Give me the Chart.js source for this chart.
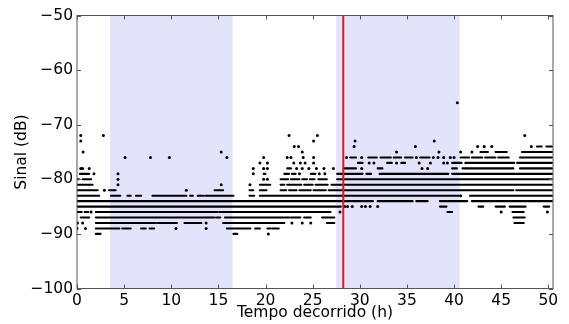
<!DOCTYPE html>
<html lang="pt">
<head>
  <meta charset="UTF-8">
  <title>Sinal</title>
  <style>
    html, body { margin: 0; padding: 0; background: #fff; }
    #wrap { width: 569px; height: 324px; }
  </style>
</head>
<body>
  <div id="wrap"><canvas id="sinalChart"></canvas></div>

  <script src="https://cdn.jsdelivr.net/npm/chart.js"></script>
  <script>
    // eixos
    const xTicks = [0, 5, 10, 15, 20, 25, 30, 35, 40, 45, 50];
    const yTicks = [-100, -90, -80, -70, -60, -50];

    // faixas sombreadas (h) e linha vermelha
    const spanStart = [3.5, 27.5];
    const spanEnd = [16.5, 40.6];
    const eventTime = 28.25;

    // niveis de sinal (dB) e, para cada um, os trechos [inicio, fim] em horas
    // onde aparecem pontos; um numero solto e um ponto isolado
    const levels = [-66, -72, -73, -74, -75, -76, -77, -78, -79, -80, -81, -82, -83, -84, -85, -86, -87, -88, -89, -90];

    const r66 = [40.35];
    const r72 = [0.4, 2.8, 22.5, 25.5, 47.5];
    const r73 = [0.4, 25.1, 29.5, 37.9];
    const r74 = [23.05, 23.5, 29.4, 35.9, 42.5, 43.2, 44.0, 48.2, [48.8, 49.3], [49.8, 50.4]];
    const r75 = [0.65, 15.3, 23.9, 33.9, 38.4, 40.7, 41.9, [42.8, 43.6], [44.4, 45.6], [47.2, 50.4]];
    const r76 = [5.1, 7.8, 9.8, 15.9, 19.8, 22.3, 22.7, 24.0, 25.1, 28.6, [29.0, 29.6], 30.2, [30.9, 31.8],
      [32.2, 33.3], [33.6, 34.4], [34.8, 35.6], 36.0, [36.4, 37.4], 37.8, 38.3, 38.9, 39.6, 40.0,
      [40.7, 41.6], [41.9, 43.0], [43.3, 44.4], [44.7, 45.8], [47.0, 50.4]];
    const r77 = [19.4, 20.2, 23.0, 23.7, 24.2, 25.1, [29.8, 30.3], 31.0, 31.5, [32.9, 33.4], 33.9, [34.4, 34.8],
      36.3, 37.5, 38.9, 39.3, [39.8, 40.8], [41.2, 46.4], [46.7, 50.4]];
    const r78 = [0.4, 0.6, 1.3, 18.7, 19.8, 20.2, [22.3, 22.7], 23.3, 23.9, 24.6, 25.4, 26.2, 27.2, [28.3, 29.6],
      30.2, [31.9, 32.4], 36.6, 37.2, [39.8, 40.3], [40.9, 46.3], [47.0, 50.4]];
    const r79 = [[0.3, 1.3], 1.8, 4.35, 18.7, [19.8, 20.0], [22.0, 22.5], [22.8, 23.2], 23.6, [24.8, 25.3], 25.7, 26.3,
      [27.6, 30.3], [30.7, 31.2], [32.1, 39.4], [39.8, 50.4]];
    const r80 = [[0.0, 0.2], [0.6, 1.5], 4.35, 19.8, 20.2, [21.6, 22.4], [22.7, 23.6], [23.9, 24.4], [24.7, 25.2],
      [25.6, 26.5], [27.6, 50.4]];
    const r81 = [[0.0, 1.65], 4.35, 15.3, 18.35, [19.4, 20.5], [21.6, 22.0], [22.3, 23.8], [24.1, 25.0], [25.3, 26.6],
      [27.0, 50.4]];
    const r82 = [[0.0, 2.2], 2.9, [3.4, 4.1], 11.6, [14.6, 15.5], [18.3, 18.7], [19.4, 20.1], [21.6, 22.2], [22.5, 23.3],
      [23.6, 24.8], [25.1, 26.4], [26.7, 46.3], [46.6, 50.4]];
    const r83 = [[0.0, 2.35], [3.6, 4.6], [5.35, 5.7], [6.25, 6.8], [8.0, 11.6], [12.0, 12.3], [12.8, 13.4],
      [13.6, 16.6], [18.3, 18.8], [19.4, 40.5], 40.7, [41.7, 50.4]];
    const r84 = [[0.0, 31.4], [31.9, 35.6], [36.0, 37.2], [38.5, 41.4], [41.9, 50.4]];
    const r85 = [[0.0, 28.0], 28.4, 28.7, 29.2, 30.2, 30.6, 31.1, 31.9, [38.5, 39.2], [42.6, 43.1], [44.4, 45.4],
      [45.9, 47.6], [49.5, 50.1]];
    const r86 = [[0.0, 0.5], [0.8, 1.2], 1.5, [2.0, 14.9], [15.1, 26.9], 27.9, [39.3, 39.8], 45.0, [46.2, 47.4], 49.9];
    const r87 = [[0.4, 1.3], [2.0, 14.6], [14.8, 15.2], [15.7, 22.5], [22.7, 23.7], [24.1, 24.8], [26.0, 27.3], [46.3, 47.5]];
    const r88 = [0.05, 0.6, [2.0, 8.3], [8.5, 10.6], [11.4, 13.2], 13.7, [15.5, 22.0], 22.8, 23.9, 24.8, [26.5, 27.3], [46.4, 47.4]];
    const r89 = [0.0, 0.9, [2.0, 4.5], [4.8, 5.7], [6.8, 7.3], [7.7, 8.2], 10.5, 13.7, [15.9, 18.4], [18.9, 19.4],
      [20.2, 20.5], [20.7, 21.4]];
    const r90 = [[2.0, 2.5], [16.6, 17.0], 20.3];

    const runsByLevel = [r66, r72, r73, r74, r75, r76, r77, r78, r79, r80, r81, r82, r83, r84, r85, r86, r87, r88, r89, r90];

    const runPoints = [];
    const dotPoints = [];
    levels.forEach((v, i) => {
      runsByLevel[i].forEach(r => {
        if (Array.isArray(r)) {
          runPoints.push({ x: r[0], y: v }, { x: r[1], y: v }, { x: null, y: null });
        } else {
          dotPoints.push({ x: r, y: v });
        }
      });
    });

    Chart.defaults.font.family = "'DejaVu Sans', sans-serif";
    Chart.defaults.font.size = 15.5;
    Chart.defaults.color = '#000';

    const framePlugin = {
      id: 'frame',
      beforeDatasetsDraw(chart) {
        const { ctx, chartArea: a, scales: { x } } = chart;
        ctx.save();
        ctx.fillStyle = 'rgba(40, 40, 235, 0.13)';
        spanStart.forEach((s, i) => {
          const x0 = x.getPixelForValue(s);
          const x1 = x.getPixelForValue(spanEnd[i]);
          ctx.fillRect(x0, a.top, x1 - x0, a.bottom - a.top);
        });
        ctx.restore();
      },
      afterDatasetsDraw(chart) {
        const { ctx, chartArea: a, scales: { x, y } } = chart;
        ctx.save();
        // linha do evento
        ctx.strokeStyle = '#e3191c';
        ctx.lineWidth = 2;
        const xe = x.getPixelForValue(eventTime);
        ctx.beginPath();
        ctx.moveTo(xe, a.top);
        ctx.lineTo(xe, a.bottom);
        ctx.stroke();
        // moldura e ticks para dentro
        ctx.strokeStyle = '#555';
        ctx.lineWidth = 1;
        ctx.strokeRect(a.left, a.top, a.right - a.left, a.bottom - a.top);
        ctx.beginPath();
        xTicks.forEach(t => {
          const px = Math.round(x.getPixelForValue(t)) + 0.5;
          ctx.moveTo(px, a.bottom); ctx.lineTo(px, a.bottom - 4);
          ctx.moveTo(px, a.top); ctx.lineTo(px, a.top + 4);
        });
        yTicks.forEach(t => {
          const py = Math.round(y.getPixelForValue(t)) + 0.5;
          ctx.moveTo(a.left, py); ctx.lineTo(a.left + 4, py);
          ctx.moveTo(a.right, py); ctx.lineTo(a.right - 4, py);
        });
        ctx.stroke();
        ctx.restore();
      }
    };

    new Chart(document.getElementById('sinalChart'), {
      type: 'scatter',
      data: {
        datasets: [{
          label: 'trechos',
          data: runPoints,
          showLine: true,
          spanGaps: false,
          borderColor: '#000',
          borderWidth: 2.1,
          borderCapStyle: 'round',
          pointRadius: 0,
          pointHoverRadius: 0
        }, {
          label: 'pontos',
          data: dotPoints,
          backgroundColor: '#000',
          borderWidth: 0,
          pointRadius: 1.5,
          pointHoverRadius: 1.5
        }]
      },
      plugins: [framePlugin],
      options: {
        responsive: true,
        maintainAspectRatio: false,
        animation: false,
        events: [],
        layout: { padding: { top: 15.5, right: 16, left: 0, bottom: 0 } },
        plugins: {
          legend: { display: false },
          tooltip: { enabled: false }
        },
        scales: {
          x: {
            type: 'linear',
            min: 0,
            max: 50.5,
            grid: { display: false, drawTicks: false },
            border: { display: false },
            afterBuildTicks: s => { s.ticks = xTicks.map(v => ({ value: v })); },
            afterFit: s => { s.height = 35.5; },
            ticks: { padding: 3, maxRotation: 0, callback: v => String(v) },
            title: { display: true, text: 'Tempo decorrido (h)', padding: { top: 0, bottom: 2.2 } }
          },
          y: {
            min: -100,
            max: -50,
            grid: { display: false, drawTicks: false },
            border: { display: false },
            afterBuildTicks: s => { s.ticks = yTicks.map(v => ({ value: v })); },
            afterFit: s => { s.width = 77; },
            ticks: { padding: 4, callback: v => String(v).replace('-', '\u2212') },
            title: { display: true, text: 'Sinal (dB)', padding: { top: 12.3, bottom: 0 } }
          }
        }
      }
    });
  </script>
</body>
</html>
